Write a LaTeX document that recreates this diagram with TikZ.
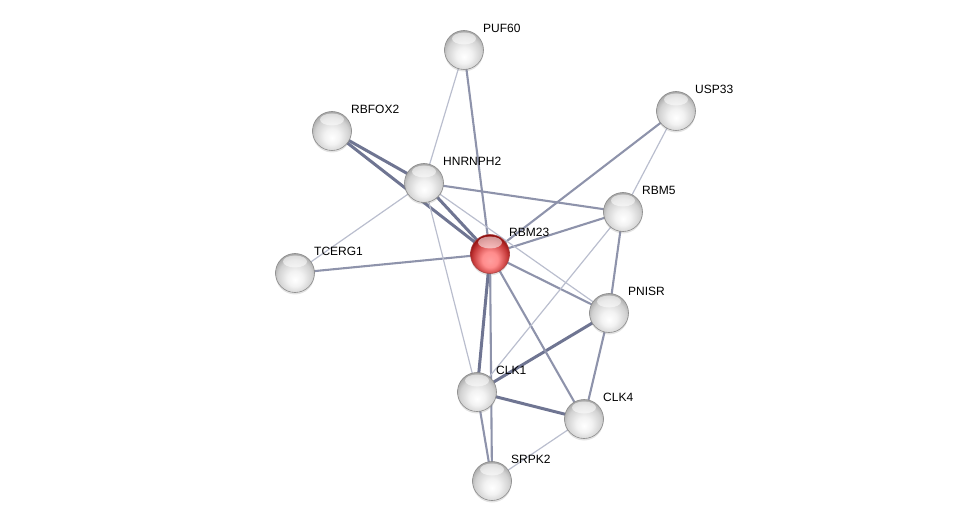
\documentclass[tikz,border=0pt]{standalone}
\usepackage{fontspec}
\setmainfont{Liberation Sans}
\usetikzlibrary{backgrounds, shadows}
\definecolor{edgedark}{HTML}{6F7592}
\definecolor{edgemid}{HTML}{8E93AB}
\definecolor{edgelight}{HTML}{BABECE}
\definecolor{rimgray}{HTML}{8A8A8A}
\definecolor{rimred}{HTML}{A84444}
\pgfdeclareradialshading{sphere}{\pgfpoint{0bp}{-9bp}}{%
  color(0bp)=(white); color(10bp)=(white!95!black); color(22bp)=(white!82!black);
  color(30bp)=(white!62!black); color(50bp)=(white!62!black)}
\pgfdeclareradialshading{redsphere}{\pgfpoint{0bp}{-9bp}}{%
  color(0bp)=(red!38!white); color(10bp)=(red!45!white); color(22bp)=(red!55!gray);
  color(30bp)=(red!50!black); color(50bp)=(red!50!black)}
\tikzset{
  prot/.style={circle, minimum size=39pt, inner sep=0pt, draw=rimgray, line width=0.6pt,
               shading=sphere,
               drop shadow={opacity=0.22, shadow xshift=0pt, shadow yshift=-2pt},
               path picture={\fill[white, opacity=0.55]
                 ([yshift=-8pt]path picture bounding box.north) ellipse (12pt and 6pt);}},
  query/.style={prot, draw=rimred, shading=redsphere},
  lbl/.style={font=\fontsize{12}{14}\selectfont, inner sep=0pt, xshift=5pt, yshift=3pt},
  thick link/.style={edgedark, line width=3pt},
  mid link/.style={edgemid, line width=2.1pt},
  thin link/.style={edgelight, line width=1.2pt},
}

\begin{document}
\begin{tikzpicture}[x=1pt, y=-1pt]
    \useasboundingbox (0,0) rectangle (976,526);
    \node[prot] (puf) at (464,50) [label={[lbl]45:PUF60}] {};
    \node[prot] (usp) at (676,111) [label={[lbl]45:USP33}] {};
    \node[prot] (rbfox) at (332,131) [label={[lbl]45:RBFOX2}] {};
    \node[prot] (hnrnp) at (424,183) [label={[lbl]45:HNRNPH2}] {};
    \node[prot] (rbm5) at (623,212) [label={[lbl]45:RBM5}] {};
    \node[query] (rbm23) at (490,254) [label={[lbl]45:RBM23}] {};
    \node[prot] (tcerg) at (295,273) [label={[lbl]45:TCERG1}] {};
    \node[prot] (pnisr) at (609,313) [label={[lbl]45:PNISR}] {};
    \node[prot] (clk1) at (477,392) [label={[lbl]45:CLK1}] {};
    \node[prot] (clk4) at (584,419) [label={[lbl]45:CLK4}] {};
    \node[prot] (srpk) at (492,481) [label={[lbl]45:SRPK2}] {};
    \begin{scope}[on background layer]
      % strongest links
      \draw[thick link] (rbfox.center) -- (hnrnp.center);
      \draw[thick link] (rbfox.center) -- (rbm23.center);
      \draw[thick link] (hnrnp.center) -- (rbm23.center);
      \draw[thick link] (rbm23.center) -- (clk1.center);
      \draw[thick link] (pnisr.center) -- (clk1.center);
      \draw[thick link] (clk1.center) -- (clk4.center);
      % medium links
      \draw[mid link] (puf.center) -- (rbm23.center);
      \draw[mid link] (usp.center) -- (rbm23.center);
      \draw[mid link] (hnrnp.center) -- (rbm5.center);
      \draw[mid link] (tcerg.center) -- (rbm23.center);
      \draw[mid link] (rbm23.center) -- (rbm5.center);
      \draw[mid link] (rbm23.center) -- (pnisr.center);
      \draw[mid link] (rbm23.center) -- (clk4.center);
      \draw[mid link] (rbm23.center) -- (srpk.center);
      \draw[mid link] (rbm5.center) -- (pnisr.center);
      \draw[mid link] (pnisr.center) -- (clk4.center);
      \draw[mid link] (clk1.center) -- (srpk.center);
      % weak links
      \draw[thin link] (puf.center) -- (hnrnp.center);
      \draw[thin link] (usp.center) -- (rbm5.center);
      \draw[thin link] (hnrnp.center) -- (tcerg.center);
      \draw[thin link] (hnrnp.center) -- (clk1.center);
      \draw[thin link] (hnrnp.center) -- (pnisr.center);
      \draw[thin link] (rbm5.center) -- (clk1.center);
      \draw[thin link] (clk4.center) -- (srpk.center);
    \end{scope}
\end{tikzpicture}
\end{document}
